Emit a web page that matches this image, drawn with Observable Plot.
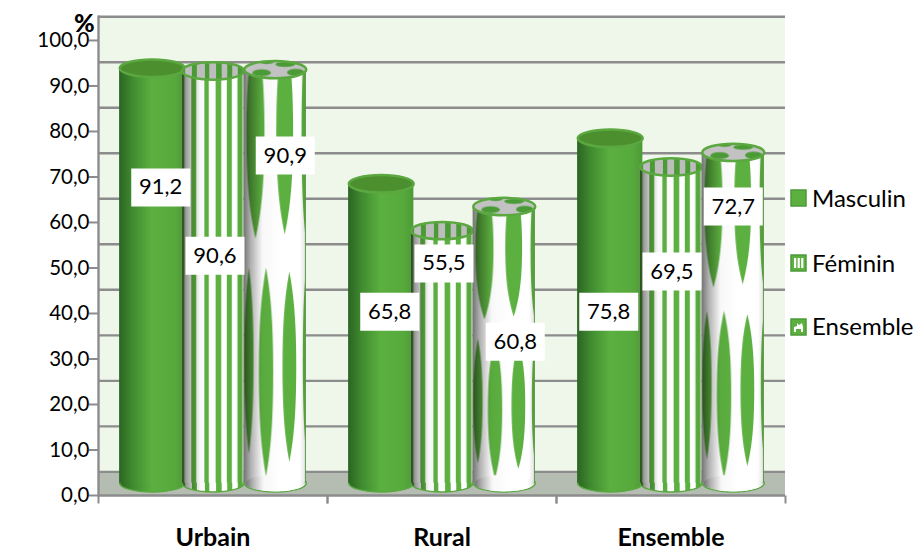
<!DOCTYPE html>
<html lang="fr">
<head>
<meta charset="utf-8">
<script src="https://cdn.jsdelivr.net/npm/d3@7"></script>
<script src="https://cdn.jsdelivr.net/npm/@observablehq/plot@0.6"></script>
<style>
  html, body { margin: 0; padding: 0; background: #fff; }
  #wrap { position: relative; width: 918px; height: 550px; overflow: hidden; font-family: Lato, "Open Sans", sans-serif; color: #000; }
  #wrap svg.chart-svg { display: block; }
  .pct { position: absolute; left: 74px; top: 12px; font-weight: 900; font-size: 25px; line-height: 20px; }
  .lg { position: absolute; left: 812px; font-size: 24px; line-height: 26px; white-space: nowrap; }
  .sw { position: absolute; left: 790px; width: 17px; height: 18px; }
</style>
</head>
<body>
<svg width="0" height="0" style="position:absolute">
  <defs id="defs">
    <linearGradient id="gMasc" x1="0" x2="1" y1="0" y2="0">
      <stop offset="0" stop-color="#2b6423"/>
      <stop offset="0.2" stop-color="#3f8a2f"/>
      <stop offset="0.5" stop-color="#5bb040"/>
      <stop offset="0.85" stop-color="#57a93c"/>
      <stop offset="1" stop-color="#4c9a36"/>
    </linearGradient>
    <linearGradient id="gShade" x1="0" x2="1" y1="0" y2="0">
      <stop offset="0" stop-color="#000" stop-opacity="0.55"/>
      <stop offset="0.12" stop-color="#000" stop-opacity="0.3"/>
      <stop offset="0.3" stop-color="#000" stop-opacity="0.03"/>
      <stop offset="0.6" stop-color="#000" stop-opacity="0"/>
      <stop offset="0.9" stop-color="#000" stop-opacity="0"/>
      <stop offset="1" stop-color="#000" stop-opacity="0.12"/>
    </linearGradient>
  </defs>
</svg>
<div id="wrap">
  <div class="pct">%</div>
</div>
<script>
const categories = ["Urbain", "Rural", "Ensemble"];
const seriesNames = ["Masculin", "Féminin", "Ensemble"];
const masculin = [91.2, 65.8, 75.8];
const feminin = [90.6, 55.5, 69.5];
const ensemble = [90.9, 60.8, 72.7];
const labelLevels = [
  [67.7, 52.7, 74.7],
  [40.4, 51.0, 33.8],
  [40.4, 49.2, 63.5]
];
const yTicks = [0, 10, 20, 30, 40, 50, 60, 70, 80, 90, 100];

// depth of the pseudo-3D chart, in axis units
const wallLift = 5.2;
const baseLift = 2.7;
const wallTop = 100 + wallLift;

const GREEN = "#5cb040", EDGE = "#5aa83f", GRID = "#8c8c8c";
const fmt = (v) => v.toFixed(1).replace(".", ",");

// ---- fills (SVG patterns stretched over each bar's box)
function spindle(cx, hw, y0, y1) {
  const h = y1 - y0, m = y0 + h * 0.5;
  return `M${cx} ${y0}C${cx + hw * 0.5} ${y0 + h * 0.1} ${cx + hw} ${y0 + h * 0.22} ${cx + hw} ${m}` +
    `C${cx + hw} ${y0 + h * 0.78} ${cx + hw * 0.5} ${y0 + h * 0.9} ${cx} ${y1}` +
    `C${cx - hw * 0.5} ${y0 + h * 0.9} ${cx - hw} ${y0 + h * 0.78} ${cx - hw} ${m}` +
    `C${cx - hw} ${y0 + h * 0.22} ${cx - hw * 0.5} ${y0 + h * 0.1} ${cx} ${y0}Z`;
}
const stripes = [[0, .05], [.16, .08], [.37, .07], [.55, .09], [.73, .08], [.9, .08]];
const stripeRects = (c) => stripes.map(([x, w]) => `<rect x="${x}" y="0" width="${w}" height="1" fill="${c}"/>`).join("");
const spindles = [
  [.085, .075, .48, .93], [.36, .115, .48, .985], [.735, .11, .49, .95], [1.0, .05, .48, .93],
  [.19, .145, -.1, .41], [.66, .135, -.1, .40], [1.0, .07, -.1, .42]
].map((s) => `<path d="${spindle(...s)}" fill="${GREEN}"/>`).join("");
const pat = (id, body) => `<pattern id="${id}" patternUnits="objectBoundingBox" patternContentUnits="objectBoundingBox" x="0" y="0" width="1" height="1">${body}</pattern>`;
const defsHtml =
  pat("pFem", `<rect width="1" height="1" fill="#fff"/>${stripeRects(GREEN)}<rect width="1" height="1" fill="url(#gShade)"/>`) +
  pat("pEns", `<rect width="1" height="1" fill="#fff"/>${spindles}<rect x=".985" width=".015" height="1" fill="${EDGE}"/><rect width="1" height="1" fill="url(#gShade)"/>`) +
  pat("pEnsBase", `<rect width="1" height="1" fill="#fff"/><rect width="1" height="1" fill="url(#gShade)"/>`) +
  pat("pFemTop", `<rect width="1" height="1" fill="#bdbdbd"/>${stripeRects("#4a9a35")}`) +
  pat("pEnsTop", `<rect width="1" height="1" fill="#c2c2c2"/>` +
    `<ellipse cx=".28" cy=".68" rx=".15" ry=".2" fill="#4a9a35"/><ellipse cx=".83" cy=".66" rx=".14" ry=".2" fill="#4a9a35"/>` +
    `<ellipse cx=".66" cy=".2" rx=".16" ry=".15" fill="#4a9a35"/><ellipse cx=".36" cy=".06" rx=".12" ry=".12" fill="#4a9a35"/>`);
document.getElementById("defs").insertAdjacentHTML("beforeend", defsHtml);

// ---- custom dot symbols
const K = 0.5523;
const ellipseSymbol = (ratio) => ({
  draw(ctx, size) {
    const rx = Math.sqrt(size / Math.PI), ry = rx * ratio;
    ctx.moveTo(-rx, 0);
    ctx.bezierCurveTo(-rx, -ry * K, -rx * K, -ry, 0, -ry);
    ctx.bezierCurveTo(rx * K, -ry, rx, -ry * K, rx, 0);
    ctx.bezierCurveTo(rx, ry * K, rx * K, ry, 0, ry);
    ctx.bezierCurveTo(-rx * K, ry, -rx, ry * K, -rx, 0);
    ctx.closePath();
  }
});
const boxSymbol = (ratio) => ({
  draw(ctx, size) {
    const hw = Math.sqrt(size / Math.PI), hh = hw * ratio;
    ctx.moveTo(-hw, -hh); ctx.lineTo(hw, -hh); ctx.lineTo(hw, hh); ctx.lineTo(-hw, hh); ctx.closePath();
  }
});
const tickSymbol = {
  draw(ctx, size) { ctx.moveTo(0, 0); ctx.lineTo(0, Math.sqrt(size / Math.PI)); }
};

// ---- table
const values = [masculin, feminin, ensemble];
const rows = categories.flatMap((category, c) => seriesNames.map((series, s) => ({
  category, series, value: values[s][c], level: labelLevels[c][s],
  base: baseLift, top: values[s][c] + baseLift
})));
const only = (name) => rows.filter((d) => d.series === name);
const labelNudge = [10, 2, 10, 10, 2, 11, 0, 1, 0];

const box = boxSymbol(19 / 29.5);
const cylinder = (name, bodyFill, baseFill, topFill, grow = 0, patch = false) => {
  const common = { fx: "category", x: "series", dx: grow / 2, r: 31 + grow / 2, symbol: ellipseSymbol(0.28 * 31 / (31 + grow / 2)) };
  return [
    Plot.dot(only(name), { ...common, y: "base", fill: baseFill, stroke: EDGE, strokeWidth: 1.5 }),
    Plot.barY(only(name), { fx: "category", x: "series", y1: "base", y2: "top", fill: bodyFill, insetRight: -grow }),
    patch ? Plot.dot(only(name), { ...common, r: 29.5, y: "base", fill: baseFill }) : null,
    Plot.dot(only(name), { ...common, y: "top", fill: topFill, stroke: EDGE, strokeWidth: 2.5 })
  ];
};

const plot = Plot.plot({
  width: 918,
  height: 550,
  marginTop: 16.3,
  marginBottom: 55,
  marginLeft: 98,
  marginRight: 133,
  style: { fontFamily: "Lato, 'Open Sans', sans-serif", background: "transparent", color: "#000" },
  fx: { domain: categories, padding: 0, round: false },
  x: { domain: seriesNames, paddingInner: 0, paddingOuter: 0.339, round: false, axis: null },
  y: { domain: [0, wallTop], axis: null },
  marks: [
    Plot.rectY([0], { y1: wallLift, y2: wallTop, fill: "#eef7ea" }),
    Plot.rectY([0], { y1: 0, y2: wallLift, fill: "#b5bdb3" }),
    Plot.ruleY(yTicks.map((t) => t + wallLift), { stroke: GRID, strokeWidth: 2.4 }),
    Plot.ruleY([wallLift], { stroke: GRID, strokeWidth: 1.5 }),
    Plot.ruleY([0], { stroke: GRID, strokeWidth: 2.6 }),
    Plot.frame({ anchor: "left", fx: () => "Urbain", stroke: GRID, strokeWidth: 2.4 }),
    Plot.dot([0], { y: 0, r: 8, frameAnchor: "left", symbol: tickSymbol, stroke: GRID, strokeWidth: 2 }),
    Plot.dot([0], { y: 0, r: 8, frameAnchor: "right", symbol: tickSymbol, stroke: GRID, strokeWidth: 2 }),
    cylinder("Masculin", "url(#gMasc)", "url(#gMasc)", "#4b8f2f", 3),
    cylinder("Féminin", "url(#pFem)", "url(#pFem)", "url(#pFemTop)"),
    cylinder("Ensemble", "url(#pEns)", "url(#pEnsBase)", "url(#pEnsTop)", 0, true),
    rows.flatMap((r, i) => [
      Plot.dot([r], { fx: "category", x: "series", y: "level", r: 29.5, symbol: box, fill: "#fff", dx: labelNudge[i] }),
      Plot.text([r], { fx: "category", x: "series", y: "level", text: (d) => fmt(d.value), fontSize: 22, fill: "#000", dx: labelNudge[i] })
    ]),
    Plot.axisY({ ticks: yTicks, tickFormat: fmt, tickSize: 9, tickPadding: 0, label: null, stroke: GRID, strokeWidth: 2, fontSize: 20.5, fill: "#000" }),
    Plot.axisFx({ anchor: "bottom", tickSize: 0, tickPadding: 33, label: null, fontSize: 25, fontWeight: 700, fill: "#000" })
  ]
});
plot.classList.add("chart-svg");
const wrap = document.getElementById("wrap");
wrap.appendChild(plot);

// ---- legend
const swatches = [
  `<svg class="sw" viewBox="0 0 17 18" style="top:189px"><rect x="1" y="1" width="15" height="16" fill="${GREEN}" stroke="#4b9a38" stroke-width="1.5"/></svg>`,
  `<svg class="sw" viewBox="0 0 17 18" style="top:254px"><rect x="1" y="1" width="15" height="16" fill="${GREEN}" stroke="#4b9a38" stroke-width="1.5"/><rect x="4" y="4" width="2.2" height="10" fill="#fff"/><rect x="7.6" y="4" width="2.2" height="10" fill="#fff"/><rect x="11.2" y="4" width="2.2" height="10" fill="#fff"/></svg>`,
  `<svg class="sw" viewBox="0 0 17 18" style="top:318px"><rect x="1" y="1" width="15" height="16" fill="${GREEN}" stroke="#4b9a38" stroke-width="1.5"/><path d="M4 14V9L7 8V5L9 7L12 5L13 9V14H11V11H6V14Z" fill="#fff"/></svg>`
];
const labelTops = [185, 250, 313];
seriesNames.forEach((name, i) => {
  wrap.insertAdjacentHTML("beforeend", swatches[i]);
  wrap.insertAdjacentHTML("beforeend", `<div class="lg" style="top:${labelTops[i]}px">${name}</div>`);
});
</script>
</body>
</html>
